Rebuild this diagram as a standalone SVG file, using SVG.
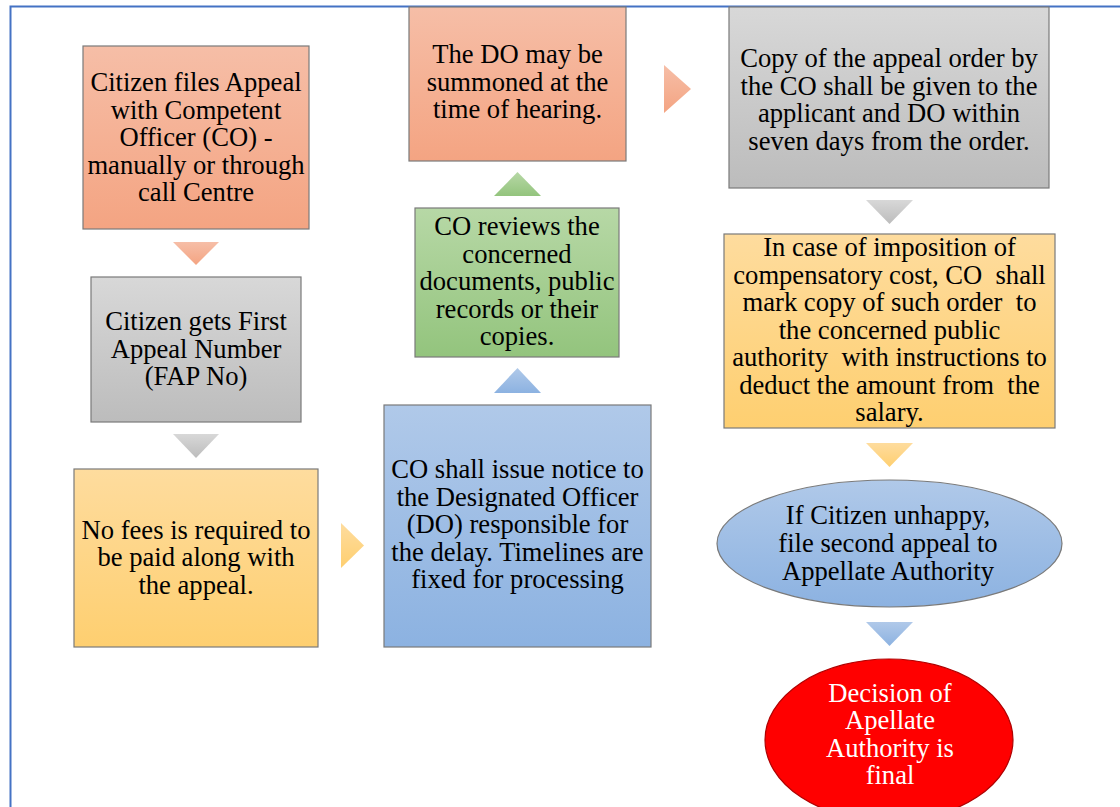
<svg xmlns="http://www.w3.org/2000/svg" width="1120" height="807" viewBox="0 0 1120 807">
<defs>
<linearGradient id="gOr" x1="0" y1="0" x2="0" y2="1"><stop offset="0" stop-color="#f6bea7"/><stop offset="1" stop-color="#f4a482"/></linearGradient>
<linearGradient id="gGy" x1="0" y1="0" x2="0" y2="1"><stop offset="0" stop-color="#d8d8d8"/><stop offset="1" stop-color="#bcbcbc"/></linearGradient>
<linearGradient id="gYe" x1="0" y1="0" x2="0" y2="1"><stop offset="0" stop-color="#fedc9e"/><stop offset="1" stop-color="#fecf70"/></linearGradient>
<linearGradient id="gGr" x1="0" y1="0" x2="0" y2="1"><stop offset="0" stop-color="#b7d8a6"/><stop offset="1" stop-color="#93c47d"/></linearGradient>
<linearGradient id="gBl" x1="0" y1="0" x2="0" y2="1"><stop offset="0" stop-color="#b0c9e9"/><stop offset="1" stop-color="#8cb2e1"/></linearGradient>
</defs>
<style>
.box{stroke:#7a7a7a;stroke-width:1.2}
.t{font-family:'Liberation Serif','DejaVu Serif',serif;font-size:26.6px;fill:#000;text-anchor:middle}
.w{fill:#fff}
</style>
<path d="M10.5,807 V6.5 H1120" fill="none" stroke="#4472c4" stroke-width="2"/>
<g id="connectors">
<polygon points="173,242 219,242 196,265" fill="url(#gOr)"/>
<polygon points="173,434 219,434 196,458" fill="url(#gGy)"/>
<polygon points="341,523 364,545.5 341,568" fill="url(#gYe)"/>
<polygon points="494,393 541,393 517.5,368" fill="url(#gBl)"/>
<polygon points="494,196 541,196 517.5,172" fill="url(#gGr)"/>
<polygon points="664,65 691,89 664,113" fill="url(#gOr)"/>
<polygon points="866,200 913,200 889.5,224" fill="url(#gGy)"/>
<polygon points="866,443 913,443 889.5,467" fill="url(#gYe)"/>
<polygon points="866,622 913,622 889.5,646" fill="url(#gBl)"/>
</g>
<g id="n1">
<rect class="box" x="83" y="46" width="226" height="183" fill="url(#gOr)"/>
<text class="t"><tspan x="196" y="91">Citizen files Appeal</tspan><tspan x="196" y="118.5">with Competent</tspan><tspan x="196" y="146">Officer (CO) -</tspan><tspan x="196" y="173.5">manually or through</tspan><tspan x="196" y="201">call Centre</tspan></text>
</g>
<g id="n2">
<rect class="box" x="91" y="277" width="210" height="145" fill="url(#gGy)"/>
<text class="t"><tspan x="196" y="330">Citizen gets First</tspan><tspan x="196" y="357.5">Appeal Number</tspan><tspan x="196" y="385">(FAP No)</tspan></text>
</g>
<g id="n3">
<rect class="box" x="74" y="469" width="244" height="178" fill="url(#gYe)"/>
<text class="t"><tspan x="196" y="538.5">No fees is required to</tspan><tspan x="196" y="566">be paid along with</tspan><tspan x="196" y="593.5">the appeal.</tspan></text>
</g>
<g id="n4">
<rect class="box" x="384" y="405" width="267" height="242" fill="url(#gBl)"/>
<text class="t"><tspan x="517.5" y="478">CO shall issue notice to</tspan><tspan x="517.5" y="505.5">the Designated Officer</tspan><tspan x="517.5" y="533">(DO) responsible for</tspan><tspan x="517.5" y="560.5">the delay. Timelines are</tspan><tspan x="517.5" y="588">fixed for processing</tspan></text>
</g>
<g id="n5">
<rect class="box" x="415" y="208" width="204" height="149" fill="url(#gGr)"/>
<text class="t"><tspan x="517" y="235">CO reviews the</tspan><tspan x="517" y="262.5">concerned</tspan><tspan x="517" y="290">documents, public</tspan><tspan x="517" y="317.5">records or their</tspan><tspan x="517" y="345">copies.</tspan></text>
</g>
<g id="n6">
<rect class="box" x="409" y="7" width="217" height="154" fill="url(#gOr)"/>
<text class="t"><tspan x="517.5" y="63">The DO may be</tspan><tspan x="517.5" y="90.5">summoned at the</tspan><tspan x="517.5" y="118">time of hearing.</tspan></text>
</g>
<g id="n7">
<rect class="box" x="729" y="7" width="320" height="181" fill="url(#gGy)"/>
<text class="t"><tspan x="889" y="67">Copy of the appeal order by</tspan><tspan x="889" y="94.5">the CO shall be given to the</tspan><tspan x="889" y="122">applicant and DO within</tspan><tspan x="889" y="149.5">seven days from the order.</tspan></text>
</g>
<g id="n8">
<rect class="box" x="724" y="234" width="331" height="194" fill="url(#gYe)"/>
<text class="t" xml:space="preserve"><tspan x="889.5" y="256">In case of imposition of</tspan><tspan x="889.5" y="283.5">compensatory cost, CO  shall</tspan><tspan x="889.5" y="311">mark copy of such order  to</tspan><tspan x="889.5" y="338.5">the concerned public</tspan><tspan x="889.5" y="366">authority  with instructions to</tspan><tspan x="889.5" y="393.5">deduct the amount from  the</tspan><tspan x="889.5" y="421">salary.</tspan></text>
</g>
<g id="n9">
<ellipse class="box" cx="889.5" cy="543.5" rx="172.5" ry="63.5" fill="url(#gBl)"/>
<text class="t"><tspan x="888" y="524">If Citizen unhappy,</tspan><tspan x="888" y="552">file second appeal to</tspan><tspan x="888" y="579.5">Appellate Authority</tspan></text>
</g>
<g id="n10">
<ellipse cx="889" cy="740" rx="124" ry="81" fill="#ff0000" stroke="#b00000" stroke-width="1.2"/>
<text class="t w"><tspan x="890" y="701.5">Decision of</tspan><tspan x="890" y="729">Apellate</tspan><tspan x="890" y="756.5">Authority is</tspan><tspan x="890" y="784">final</tspan></text>
</g>
</svg>
